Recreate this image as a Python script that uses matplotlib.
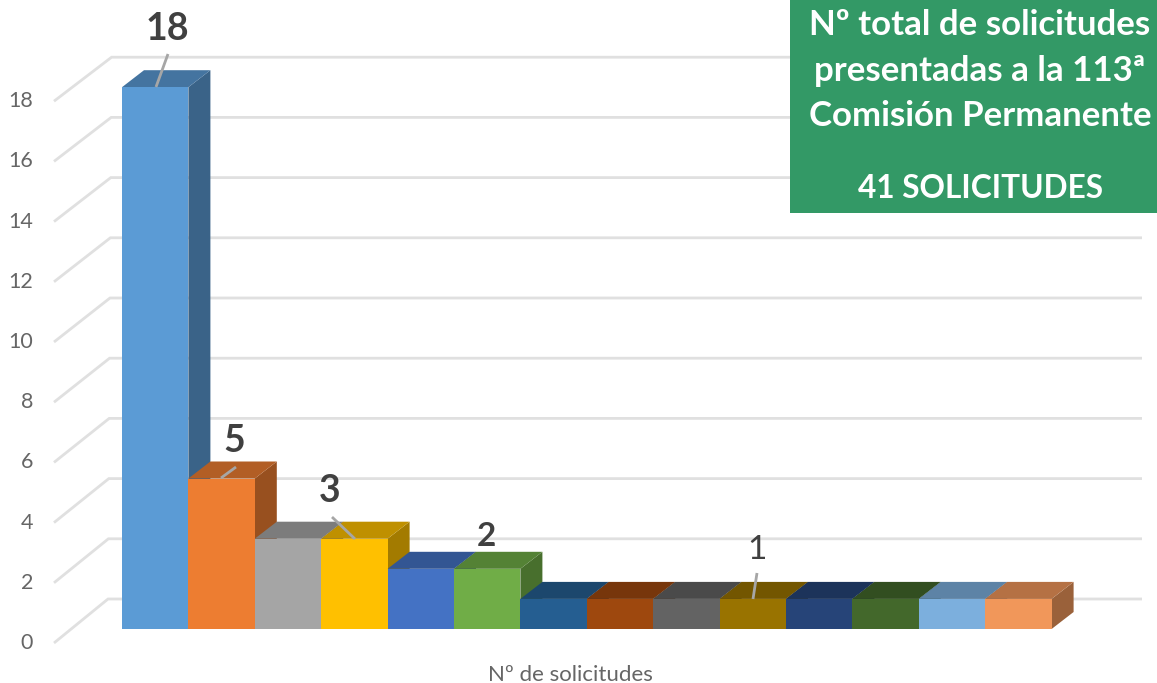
# -*- coding:utf-8 -*-
import matplotlib
matplotlib.use("Agg")
import matplotlib.pyplot as plt
from matplotlib.patches import Polygon, Rectangle
import matplotlib.colors as mc

plt.rcParams["font.family"] = ["Lato", "DejaVu Sans"]

W, H = 1157, 683

valores = [18, 5, 3, 3, 2, 2, 1, 1, 1, 1, 1, 1, 1, 1]
colores = ["#5B9BD5", "#ED7D31", "#A5A5A5", "#FFC000", "#4472C4", "#70AD47", "#255E91",
           "#9E480E", "#636363", "#997300", "#264478", "#43682B", "#7CAFDD", "#F1975A"]
ticks = [0, 2, 4, 6, 8, 10, 12, 14, 16, 18]
eje_x = "Nº de solicitudes"
caja_lineas = ["Nº total de solicitudes", "presentadas a la 113ª", "Comisión Permanente", "41 SOLICITUDES"]

# escala: px por categoria y px por unidad
PX_X = 66.4
PX_Y = 30.1
X0 = 122
Y0 = 629
DX = 22 / PX_X      # fondo de la barra
DY = 17 / PX_Y


def oscuro(c, f):
    r, g, b = mc.to_rgb(c)
    return (r * f, g * f, b * f)


def px(x, y):
    # pixel de la imagen -> datos
    return (x - X0) / PX_X, (Y0 - y) / PX_Y


fig = plt.figure(figsize=(W / 100, H / 100), dpi=100)
ax = fig.add_axes([0, 0, 1, 1])
ax.set_xlim(px(0, 0)[0], px(W, 0)[0])
ax.set_ylim(px(0, H)[1], px(0, 0)[1])
ax.axis("off")

# pared del fondo y lateral
for t in ticks:
    x_a, y_a = px(54, 643 - t * 30.1)
    x_b, y_b = px(108 + t * 0.2, 599 - t * 30.1)
    x_c, _ = px(1142, 0)
    ax.plot([x_a, x_b, x_c], [y_a, y_b, y_b], color="#E0E0E0", lw=2, zorder=1,
            solid_joinstyle="miter", solid_capstyle="butt")
    lx, ly = px(33, 643 - t * 30.1)
    ax.text(lx, ly, str(t), ha="right", va="center", fontsize=15.5, color="#666666")

# barras, de izquierda a derecha para que tapen bien
z = 2
for i, (v, c) in enumerate(zip(valores, colores)):
    ax.add_patch(Polygon([(i + 1, 0), (i + 1 + DX, DY), (i + 1 + DX, v + DY), (i + 1, v)],
                         fc=oscuro(c, 0.64), ec="none", zorder=z))
    ax.add_patch(Polygon([(i, v), (i + 1, v), (i + 1 + DX, v + DY), (i + DX, v + DY)],
                         fc=oscuro(c, 0.75), ec="none", zorder=z))
    ax.bar(i, v, width=1, align="edge", color=c, linewidth=0, zorder=z)
    z += 1

# etiquetas
etiquetas = [("18", 167, 29, 27, "bold"), ("5", 234, 441, 27, "bold"), ("3", 330, 491, 27, "bold"),
             ("2", 486, 537, 24, "bold"), ("1", 757, 550, 24, "normal")]
for s, x, y, fs, w in etiquetas:
    lx, ly = px(x, y)
    ax.text(lx, ly, s, ha="center", va="center", fontsize=fs, fontweight=w, color="#404040", zorder=30)

guias = [((156, 87), (168, 54)), ((221, 478), (236, 467)), ((355, 539), (332, 517)), ((753, 599), (757, 573))]
for a, b in guias:
    xa, ya = px(*a)
    xb, yb = px(*b)
    ax.plot([xa, xb], [ya, yb], color="#A6A6A6", lw=2, zorder=30, solid_capstyle="butt")

lx, ly = px(570, 675)
ax.text(lx, ly, eje_x, ha="center", va="center", fontsize=16, color="#666666")

# caja verde
xa, ya = px(790, 213)
xb, yb = px(W, 0)
ax.add_patch(Rectangle((xa, ya), xb - xa, yb - ya, fc="#339966", ec="none", zorder=40))
for s, y, fs in zip(caja_lineas, [25, 71, 116, 188], [25.1, 25.1, 25.1, 22.8]):
    lx, ly = px(980, y)
    ax.text(lx, ly, s, ha="center", va="center", fontsize=fs, fontweight="bold", color="white", zorder=41)

fig.savefig("out.png", dpi=100)
